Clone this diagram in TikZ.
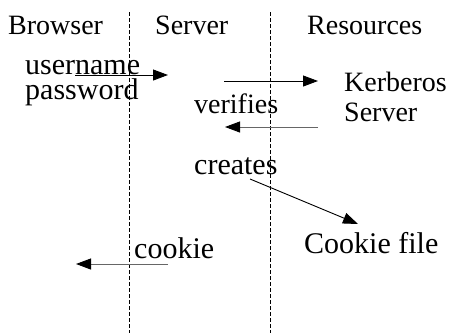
\documentclass[tikz,border=0pt]{standalone}
\usepackage{fontspec}
\setmainfont{Liberation Serif}
\usetikzlibrary{arrows.meta}
\begin{document}
\begin{tikzpicture}[x=1pt,y=-1pt,
  lbl/.style={anchor=base west,inner sep=0pt,font=\fontsize{28}{30}\selectfont},
  lblb/.style={anchor=base west,inner sep=0pt,font=\fontsize{30}{30}\selectfont},
  lane/.style={dash pattern=on 4pt off 2pt,line width=0.6pt},
  msg/.style={line width=0.9pt,-{Triangle[length=15pt,width=11pt]}},
  gmsg/.style={msg,draw=black!60,-{Triangle[length=15pt,width=11pt,fill=black,color=black]}}]
\useasboundingbox (0,0) rectangle (450,333);
% lanes
\coordinate (l1t) at (129.5,12);
\coordinate (l1b) at (129.5,333);
\coordinate (l2t) at (270.5,12);
\coordinate (l2b) at (270.5,333);
\draw[lane] (l1t) -- (l1b);
\draw[lane] (l2t) -- (l2b);
% headers
\node[lbl] (browser) at (8,34) {Browser};
\node[lbl] (server) at (155,34) {Server};
\node[lbl] (resources) at (307,34) {Resources};
% labels
\node[lblb,align=left,font=\fontsize{30}{25}\selectfont] (user) at (25,99) {username\\password};
\node[lbl,align=left,font=\fontsize{28}{30}\selectfont] (kerb) at (344,121) {Kerberos\\Server};
\node[lbl] (verif) at (194,113) {verifies};
\node[lblb] (creates) at (194,174) {creates};
\node[lblb] (cfile) at (304,253) {Cookie file};
\node[lblb] (cookie) at (134,258) {cookie};
% arrows
\coordinate (a1s) at (75,75);
\coordinate (a1e) at (168,75);
\coordinate (a2s) at (224,81);
\coordinate (a2e) at (318,81);
\coordinate (a3s) at (318,127);
\coordinate (a3e) at (225,127);
\coordinate (a4s) at (250,179);
\coordinate (a4e) at (358,224);
\coordinate (a5s) at (168,264);
\coordinate (a5e) at (76,264);
\draw[msg] (a1s) -- (a1e);
\draw[msg] (a2s) -- (a2e);
\draw[gmsg] (a3s) -- (a3e);
\draw[msg] (a4s) -- (a4e);
\draw[gmsg] (a5s) -- (a5e);
\end{tikzpicture}
\end{document}
